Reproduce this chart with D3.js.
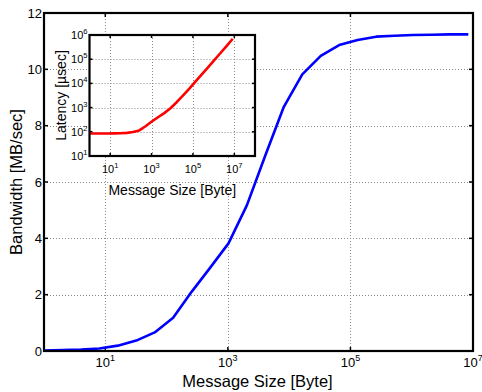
<!DOCTYPE html>
<html>
<head>
<meta charset="utf-8">
<script src="https://cdn.jsdelivr.net/npm/d3@7"></script>
<style>
  html, body { margin: 0; padding: 0; background: #fff; }
  svg { display: block; }
  text { font-family: "Liberation Sans", Arial, Helvetica, sans-serif; fill: #000; }
</style>
</head>
<body>
<svg id="chart" width="482" height="392"></svg>
<script>
// Message sizes in bytes (powers of two, 1 B .. 8 MB)
const messageSizes = [1, 2, 4, 8, 16, 32, 64, 128, 256, 512, 1024, 2048, 4096, 8192,
  16384, 32768, 65536, 131072, 262144, 524288, 1048576, 2097152, 4194304, 8388608];

// Measured bandwidth [MB/sec] for each message size
const bandwidth = [0.02, 0.03, 0.05, 0.09, 0.19, 0.37, 0.66, 1.18, 2.1, 2.95, 3.82, 5.18,
  6.95, 8.67, 9.82, 10.48, 10.86, 11.04, 11.16, 11.19, 11.22, 11.23, 11.24, 11.24];

// Measured latency [µsec] for each message size
const latency = [85, 85, 85, 85, 86, 87, 90, 98, 114, 170, 265, 400, 590, 940, 1670,
  3100, 6000, 11800, 23000, 45000, 89000, 176000, 350000, 700000];

// Tick values
const mainXTickExps = [1, 3, 5, 7];
const mainYTicks = [0, 2, 4, 6, 8, 10, 12];
const insetXTickExps = [1, 3, 5, 7];
const insetYTickExps = [1, 2, 3, 4, 5, 6];

const svg = d3.select("#chart");

function drawPanel(g, opts) {
  const { x, y, xTickExps, yTicks, yIsLog, xGridExps, yGrid, tickFont, supFont, tickLen } = opts;
  const [x0, x1] = x.range();
  const [y0, y1] = y.range();

  // white background
  g.append("rect").attr("x", x0).attr("y", y1).attr("width", x1 - x0).attr("height", y0 - y1)
    .attr("fill", "#fff");

  // dotted grid
  const grid = g.append("g").attr("stroke", "#8a8a8a").attr("stroke-width", 1)
    .attr("stroke-dasharray", "1,2");
  xGridExps.forEach(e => {
    const px = Math.round(x(Math.pow(10, e))) + 0.5;
    grid.append("line").attr("x1", px).attr("x2", px).attr("y1", y1).attr("y2", y0);
  });
  yGrid.forEach(v => {
    const py = Math.round(y(v)) + 0.5;
    grid.append("line").attr("x1", x0).attr("x2", x1).attr("y1", py).attr("y2", py);
  });

  // tick marks on all four sides (inward)
  const ticks = g.append("g").attr("stroke", "#000").attr("stroke-width", 1.5);
  xTickExps.forEach(e => {
    const px = x(Math.pow(10, e));
    ticks.append("line").attr("x1", px).attr("x2", px).attr("y1", y0).attr("y2", y0 - tickLen);
    ticks.append("line").attr("x1", px).attr("x2", px).attr("y1", y1).attr("y2", y1 + tickLen);
  });
  yTicks.forEach(v => {
    const py = y(v);
    ticks.append("line").attr("x1", x0).attr("x2", x0 + tickLen).attr("y1", py).attr("y2", py);
    ticks.append("line").attr("x1", x1).attr("x2", x1 - tickLen).attr("y1", py).attr("y2", py);
  });

  // x tick labels: 10 with superscript exponent
  xTickExps.forEach(e => {
    const px = x(Math.pow(10, e));
    const t = g.append("text").attr("x", px).attr("y", y0 + opts.xLabelDy)
      .attr("text-anchor", "middle").style("font-size", tickFont + "px");
    t.append("tspan").text("10");
    t.append("tspan").attr("dy", -tickFont * 0.45).style("font-size", supFont + "px").text(e);
  });

  // y tick labels
  yTicks.forEach(v => {
    const py = y(v);
    if (yIsLog) {
      const e = Math.round(Math.log10(v));
      const t = g.append("text").attr("x", x0 - 2).attr("y", py + tickFont * 0.36)
        .attr("text-anchor", "end").style("font-size", tickFont + "px");
      t.append("tspan").text("10");
      t.append("tspan").attr("dy", -tickFont * 0.45).style("font-size", supFont + "px").text(e);
    } else {
      g.append("text").attr("x", x0 - 2).attr("y", py + tickFont * 0.36)
        .attr("text-anchor", "end").style("font-size", tickFont + "px").text(v);
    }
  });
}

// ---------- main panel: bandwidth ----------
const mx = d3.scaleLog().domain([1, 1e7]).range([44, 473]);
const my = d3.scaleLinear().domain([0, 12]).range([351, 13]);
const main = svg.append("g");

drawPanel(main, {
  x: mx, y: my, xTickExps: mainXTickExps, yTicks: mainYTicks, yIsLog: false,
  xGridExps: [1, 3, 5], yGrid: [2, 4, 6, 8, 10], tickFont: 13, supFont: 9, tickLen: 4,
  xLabelDy: 16
});

main.append("path")
  .datum(messageSizes.map((s, i) => [s, bandwidth[i]]))
  .attr("fill", "none").attr("stroke", "#0000ff").attr("stroke-width", 2.6)
  .attr("stroke-linejoin", "round")
  .attr("d", d3.line().x(d => mx(d[0])).y(d => my(d[1])));

main.append("rect").attr("x", 44).attr("y", 13).attr("width", 473 - 44).attr("height", 351 - 13)
  .attr("fill", "none").attr("stroke", "#000").attr("stroke-width", 2.2);

main.append("text").attr("x", (44 + 473) / 2 - 1).attr("y", 386.5)
  .attr("text-anchor", "middle").style("font-size", "16.5px").text("Message Size [Byte]");
main.append("text").attr("transform", `translate(22,${(13 + 351) / 2}) rotate(-90)`)
  .attr("text-anchor", "middle").style("font-size", "16.5px").text("Bandwidth [MB/sec]");

// ---------- inset panel: latency ----------
const ix = d3.scaleLog().domain([1, 1e8]).range([89.5, 255]);
const iy = d3.scaleLog().domain([10, 1e6]).range([156, 35]);
const inset = svg.append("g");

drawPanel(inset, {
  x: ix, y: iy, xTickExps: insetXTickExps, yTicks: insetYTickExps.map(e => Math.pow(10, e)),
  yIsLog: true, xGridExps: [1, 3, 5, 7], yGrid: [1e2, 1e3, 1e4, 1e5], tickFont: 11, supFont: 7.5,
  tickLen: 3, xLabelDy: 17
});

inset.append("path")
  .datum(messageSizes.map((s, i) => [s, latency[i]]))
  .attr("fill", "none").attr("stroke", "#ff0000").attr("stroke-width", 2.6)
  .attr("stroke-linejoin", "round")
  .attr("d", d3.line().x(d => ix(d[0])).y(d => iy(d[1])));

inset.append("rect").attr("x", 89.5).attr("y", 35).attr("width", 255 - 89.5).attr("height", 156 - 35)
  .attr("fill", "none").attr("stroke", "#000").attr("stroke-width", 2.2);

inset.append("text").attr("x", (89.5 + 255) / 2).attr("y", 195)
  .attr("text-anchor", "middle").style("font-size", "14px").text("Message Size [Byte]");
inset.append("text").attr("transform", `translate(66,${(35 + 156) / 2}) rotate(-90)`)
  .attr("text-anchor", "middle").style("font-size", "14px").text("Latency [µsec]");
</script>
</body>
</html>
